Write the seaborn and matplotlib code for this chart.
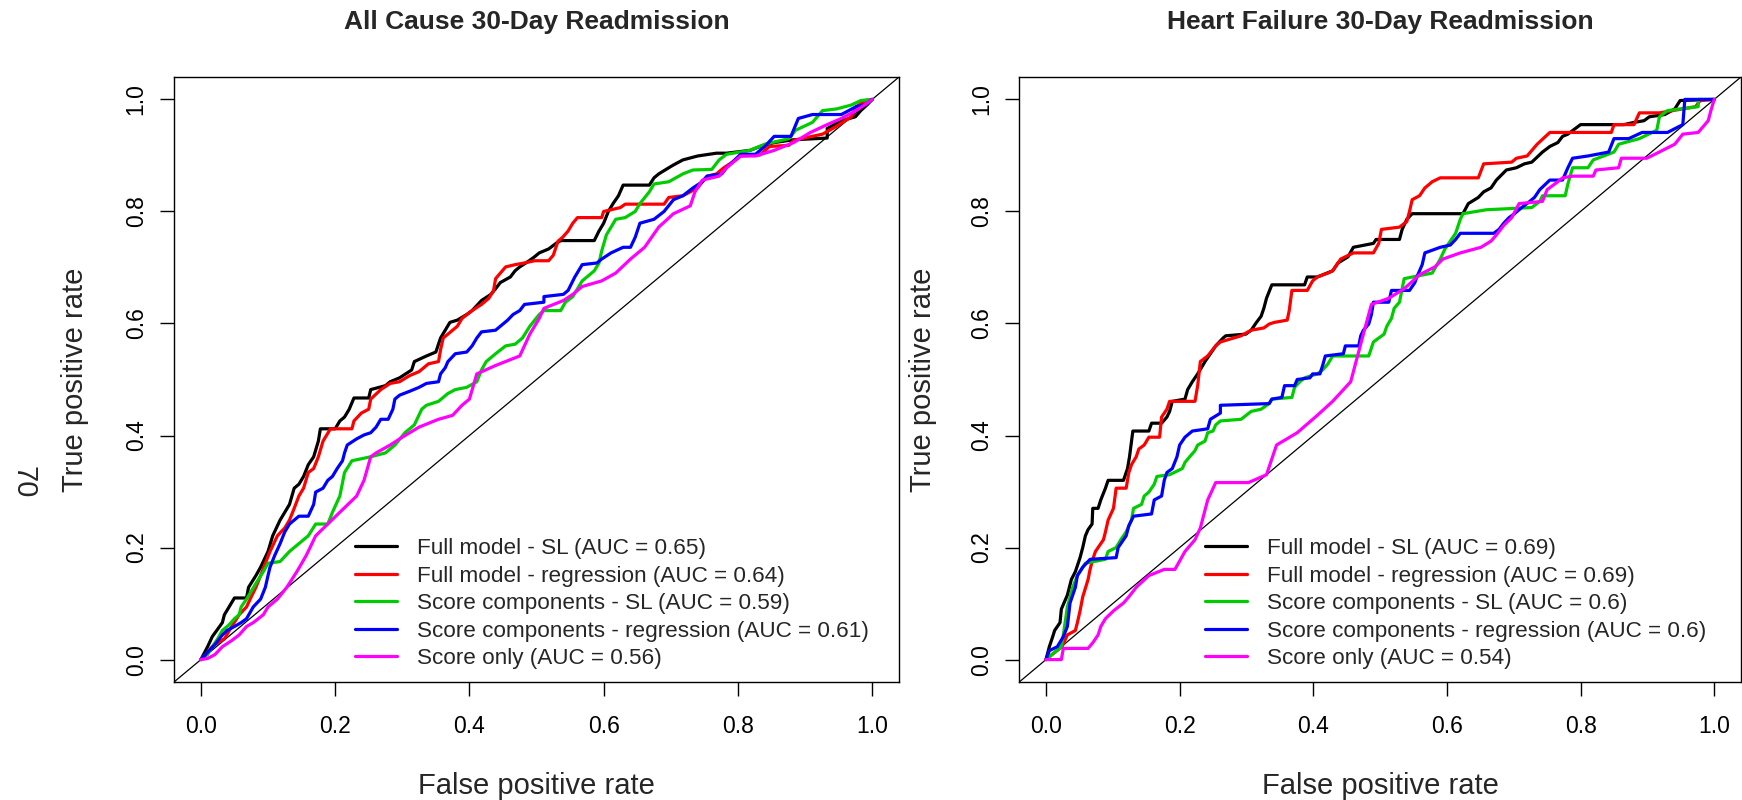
import numpy as np
import pandas as pd
import matplotlib
matplotlib.use("Agg")
import matplotlib.pyplot as plt
import seaborn as sns

# ---------------- data ----------------
titles = ["All Cause 30-Day Readmission", "Heart Failure 30-Day Readmission"]
model_names = ["Full model - SL", "Full model - regression", "Score components - SL",
               "Score components - regression", "Score only"]
auc_all_cause = ["0.65", "0.64", "0.59", "0.61", "0.56"]
auc_heart_failure = ["0.69", "0.69", "0.6", "0.6", "0.54"]
line_colors = ["#000000", "#FF0000", "#00CD00", "#0000FF", "#FF00FF"]
tick_values = [0.0, 0.2, 0.4, 0.6, 0.8, 1.0]
tick_labels = ["0.0", "0.2", "0.4", "0.6", "0.8", "1.0"]

# All cause: Full model - SL
ac_full_sl_fpr = [0, 0.010, 0.017, 0.032, 0.035, 0.050, 0.068, 0.071, 0.082, 0.089, 0.100, 0.107, 0.118, 0.125, 0.132, 0.139, 0.146, 0.153, 0.160, 0.168, 0.175, 0.178, 0.200, 0.207, 0.214, 0.221, 0.228, 0.250, 0.253, 0.275, 0.282, 0.296, 0.314, 0.318, 0.336, 0.350, 0.357, 0.364, 0.371, 0.382, 0.396, 0.404, 0.418, 0.432, 0.439, 0.446, 0.461, 0.468, 0.475, 0.489, 0.497, 0.504, 0.518, 0.529, 0.536, 0.586, 0.593, 0.600, 0.607, 0.614, 0.622, 0.629, 0.668, 0.675, 0.682, 0.697, 0.704, 0.718, 0.740, 0.768, 0.783, 0.818, 0.833, 0.854, 0.883, 0.933, 0.933, 0.954, 0.975, 0.983, 0.993, 1.0]
ac_full_sl_tpr = [0, 0.023, 0.041, 0.066, 0.080, 0.110, 0.110, 0.129, 0.150, 0.165, 0.193, 0.221, 0.249, 0.263, 0.277, 0.306, 0.313, 0.327, 0.348, 0.362, 0.390, 0.412, 0.412, 0.426, 0.433, 0.447, 0.467, 0.467, 0.482, 0.489, 0.496, 0.503, 0.517, 0.532, 0.542, 0.549, 0.574, 0.588, 0.602, 0.606, 0.616, 0.623, 0.641, 0.652, 0.662, 0.673, 0.683, 0.694, 0.701, 0.712, 0.719, 0.726, 0.733, 0.743, 0.748, 0.748, 0.765, 0.779, 0.800, 0.814, 0.828, 0.847, 0.847, 0.860, 0.867, 0.878, 0.883, 0.892, 0.899, 0.904, 0.904, 0.909, 0.916, 0.923, 0.928, 0.931, 0.948, 0.962, 0.969, 0.980, 0.991, 1.0]

# All cause: Full model - regression
ac_full_reg_fpr = [0, 0.007, 0.017, 0.025, 0.035, 0.046, 0.057, 0.068, 0.075, 0.082, 0.089, 0.096, 0.103, 0.114, 0.125, 0.132, 0.139, 0.146, 0.153, 0.160, 0.168, 0.175, 0.182, 0.193, 0.225, 0.228, 0.239, 0.250, 0.253, 0.268, 0.282, 0.296, 0.311, 0.325, 0.339, 0.354, 0.357, 0.361, 0.368, 0.382, 0.389, 0.404, 0.418, 0.429, 0.436, 0.439, 0.454, 0.468, 0.482, 0.497, 0.518, 0.525, 0.532, 0.539, 0.547, 0.554, 0.561, 0.597, 0.600, 0.611, 0.625, 0.632, 0.690, 0.697, 0.718, 0.740, 0.747, 0.754, 0.768, 0.779, 0.797, 0.804, 0.833, 0.847, 0.876, 0.883, 0.926, 0.947, 0.969, 0.976, 0.990, 1.0]
ac_full_reg_tpr = [0, 0.009, 0.023, 0.030, 0.037, 0.059, 0.080, 0.094, 0.112, 0.129, 0.150, 0.172, 0.193, 0.221, 0.235, 0.249, 0.270, 0.292, 0.306, 0.334, 0.341, 0.362, 0.390, 0.412, 0.412, 0.426, 0.440, 0.447, 0.465, 0.482, 0.493, 0.496, 0.507, 0.514, 0.528, 0.532, 0.553, 0.574, 0.581, 0.595, 0.609, 0.623, 0.634, 0.645, 0.659, 0.680, 0.701, 0.705, 0.708, 0.712, 0.712, 0.722, 0.747, 0.754, 0.765, 0.779, 0.789, 0.789, 0.800, 0.803, 0.807, 0.813, 0.813, 0.825, 0.828, 0.842, 0.853, 0.863, 0.867, 0.878, 0.892, 0.899, 0.901, 0.916, 0.918, 0.927, 0.938, 0.952, 0.969, 0.987, 0.998, 1.0]

# All cause: Score components - SL
ac_comp_sl_fpr = [0, 0.010, 0.017, 0.025, 0.032, 0.042, 0.050, 0.057, 0.060, 0.068, 0.075, 0.082, 0.093, 0.100, 0.118, 0.132, 0.146, 0.160, 0.171, 0.189, 0.196, 0.207, 0.214, 0.225, 0.253, 0.275, 0.289, 0.304, 0.318, 0.329, 0.336, 0.354, 0.368, 0.379, 0.396, 0.411, 0.418, 0.425, 0.439, 0.454, 0.468, 0.479, 0.490, 0.504, 0.511, 0.536, 0.543, 0.554, 0.561, 0.568, 0.586, 0.593, 0.597, 0.604, 0.611, 0.618, 0.632, 0.647, 0.654, 0.668, 0.675, 0.697, 0.718, 0.733, 0.761, 0.772, 0.783, 0.818, 0.840, 0.876, 0.886, 0.911, 0.926, 0.947, 0.969, 0.983, 1.0]
ac_comp_sl_tpr = [0, 0.009, 0.023, 0.037, 0.052, 0.062, 0.073, 0.080, 0.094, 0.108, 0.122, 0.136, 0.157, 0.172, 0.175, 0.193, 0.207, 0.221, 0.242, 0.242, 0.263, 0.292, 0.334, 0.355, 0.362, 0.369, 0.383, 0.405, 0.419, 0.447, 0.454, 0.461, 0.475, 0.482, 0.486, 0.496, 0.517, 0.532, 0.546, 0.560, 0.563, 0.574, 0.595, 0.616, 0.623, 0.623, 0.638, 0.648, 0.662, 0.676, 0.694, 0.708, 0.729, 0.758, 0.772, 0.786, 0.789, 0.800, 0.814, 0.835, 0.849, 0.853, 0.867, 0.874, 0.875, 0.892, 0.902, 0.909, 0.920, 0.930, 0.945, 0.959, 0.980, 0.983, 0.990, 0.998, 1.0]

# All cause: Score components - regression
ac_comp_reg_fpr = [0, 0.010, 0.021, 0.032, 0.039, 0.050, 0.060, 0.068, 0.078, 0.089, 0.096, 0.100, 0.103, 0.110, 0.118, 0.125, 0.132, 0.139, 0.146, 0.160, 0.168, 0.171, 0.182, 0.189, 0.196, 0.203, 0.211, 0.214, 0.218, 0.232, 0.243, 0.253, 0.261, 0.268, 0.279, 0.286, 0.289, 0.296, 0.311, 0.325, 0.336, 0.354, 0.357, 0.364, 0.368, 0.379, 0.396, 0.404, 0.411, 0.418, 0.439, 0.446, 0.457, 0.465, 0.475, 0.482, 0.511, 0.511, 0.540, 0.547, 0.557, 0.568, 0.590, 0.597, 0.611, 0.629, 0.640, 0.647, 0.654, 0.675, 0.690, 0.704, 0.718, 0.733, 0.747, 0.754, 0.776, 0.783, 0.804, 0.826, 0.840, 0.854, 0.879, 0.890, 0.911, 0.954, 0.976, 0.990, 1.0]
ac_comp_reg_tpr = [0, 0.013, 0.027, 0.044, 0.052, 0.059, 0.066, 0.073, 0.094, 0.108, 0.129, 0.150, 0.165, 0.186, 0.207, 0.228, 0.242, 0.249, 0.256, 0.256, 0.277, 0.299, 0.306, 0.320, 0.327, 0.341, 0.355, 0.369, 0.383, 0.394, 0.401, 0.405, 0.415, 0.429, 0.429, 0.447, 0.465, 0.472, 0.479, 0.486, 0.493, 0.496, 0.510, 0.521, 0.532, 0.546, 0.549, 0.560, 0.574, 0.585, 0.588, 0.595, 0.606, 0.616, 0.623, 0.634, 0.638, 0.648, 0.652, 0.659, 0.683, 0.705, 0.708, 0.715, 0.726, 0.736, 0.736, 0.754, 0.779, 0.786, 0.800, 0.821, 0.828, 0.842, 0.853, 0.863, 0.867, 0.878, 0.902, 0.902, 0.916, 0.934, 0.934, 0.966, 0.973, 0.973, 0.987, 0.991, 1.0]

# All cause: Score only
ac_score_fpr = [0, 0.010, 0.021, 0.032, 0.046, 0.057, 0.068, 0.078, 0.093, 0.100, 0.114, 0.128, 0.143, 0.157, 0.171, 0.189, 0.207, 0.232, 0.243, 0.253, 0.261, 0.282, 0.300, 0.325, 0.354, 0.375, 0.389, 0.400, 0.411, 0.439, 0.475, 0.490, 0.504, 0.511, 0.540, 0.554, 0.568, 0.597, 0.618, 0.640, 0.661, 0.682, 0.704, 0.729, 0.736, 0.747, 0.772, 0.783, 0.804, 0.826, 0.854, 0.883, 0.908, 0.933, 0.954, 0.976, 0.990, 1.0]
ac_score_tpr = [0, 0.002, 0.009, 0.023, 0.034, 0.044, 0.059, 0.066, 0.080, 0.094, 0.108, 0.129, 0.157, 0.186, 0.221, 0.242, 0.263, 0.292, 0.320, 0.362, 0.369, 0.383, 0.397, 0.415, 0.429, 0.436, 0.454, 0.465, 0.510, 0.525, 0.542, 0.581, 0.609, 0.627, 0.641, 0.652, 0.666, 0.676, 0.690, 0.715, 0.736, 0.772, 0.796, 0.810, 0.835, 0.856, 0.863, 0.878, 0.899, 0.899, 0.909, 0.923, 0.941, 0.955, 0.966, 0.980, 0.991, 1.0]

# Heart failure: Full model - SL
hf_full_sl_fpr = [0, 0.005, 0.009, 0.013, 0.021, 0.023, 0.028, 0.032, 0.038, 0.044, 0.051, 0.055, 0.059, 0.063, 0.069, 0.070, 0.078, 0.082, 0.089, 0.093, 0.116, 0.122, 0.125, 0.130, 0.154, 0.158, 0.173, 0.181, 0.185, 0.189, 0.208, 0.212, 0.219, 0.227, 0.238, 0.246, 0.254, 0.265, 0.269, 0.299, 0.307, 0.315, 0.322, 0.326, 0.330, 0.338, 0.387, 0.391, 0.406, 0.429, 0.437, 0.452, 0.460, 0.490, 0.494, 0.529, 0.533, 0.540, 0.548, 0.624, 0.632, 0.647, 0.655, 0.666, 0.674, 0.689, 0.704, 0.716, 0.727, 0.743, 0.754, 0.766, 0.773, 0.781, 0.800, 0.865, 0.880, 0.895, 0.903, 0.926, 0.941, 0.949, 1.0]
hf_full_sl_tpr = [0, 0.023, 0.037, 0.052, 0.066, 0.090, 0.104, 0.115, 0.143, 0.157, 0.182, 0.200, 0.221, 0.232, 0.242, 0.270, 0.270, 0.285, 0.306, 0.320, 0.320, 0.341, 0.362, 0.408, 0.408, 0.422, 0.422, 0.433, 0.443, 0.461, 0.465, 0.482, 0.496, 0.510, 0.532, 0.546, 0.560, 0.574, 0.578, 0.581, 0.588, 0.602, 0.613, 0.627, 0.645, 0.669, 0.669, 0.683, 0.683, 0.694, 0.708, 0.719, 0.736, 0.743, 0.750, 0.750, 0.768, 0.786, 0.796, 0.796, 0.814, 0.825, 0.835, 0.842, 0.856, 0.874, 0.878, 0.885, 0.888, 0.906, 0.916, 0.923, 0.934, 0.938, 0.955, 0.955, 0.959, 0.962, 0.969, 0.973, 0.983, 0.998, 1.0]

# Heart failure: Full model - regression
hf_full_reg_fpr = [0, 0.009, 0.024, 0.032, 0.044, 0.047, 0.051, 0.055, 0.063, 0.066, 0.070, 0.074, 0.086, 0.089, 0.093, 0.101, 0.105, 0.120, 0.124, 0.128, 0.135, 0.139, 0.147, 0.154, 0.170, 0.173, 0.181, 0.185, 0.223, 0.227, 0.231, 0.242, 0.254, 0.261, 0.292, 0.307, 0.326, 0.334, 0.342, 0.361, 0.364, 0.368, 0.391, 0.399, 0.406, 0.422, 0.429, 0.441, 0.460, 0.490, 0.498, 0.502, 0.529, 0.540, 0.544, 0.548, 0.559, 0.567, 0.578, 0.590, 0.647, 0.655, 0.697, 0.704, 0.720, 0.735, 0.754, 0.846, 0.850, 0.880, 0.888, 0.918, 0.972, 0.979, 1.0]
hf_full_reg_tpr = [0, 0.009, 0.023, 0.044, 0.052, 0.066, 0.087, 0.112, 0.143, 0.161, 0.179, 0.193, 0.214, 0.228, 0.249, 0.270, 0.306, 0.306, 0.334, 0.348, 0.362, 0.376, 0.383, 0.397, 0.397, 0.433, 0.447, 0.461, 0.461, 0.489, 0.532, 0.542, 0.560, 0.567, 0.578, 0.588, 0.592, 0.599, 0.602, 0.606, 0.623, 0.659, 0.659, 0.676, 0.683, 0.690, 0.694, 0.715, 0.726, 0.726, 0.743, 0.768, 0.772, 0.782, 0.800, 0.821, 0.828, 0.842, 0.853, 0.860, 0.860, 0.885, 0.888, 0.895, 0.899, 0.920, 0.941, 0.941, 0.955, 0.955, 0.976, 0.976, 0.987, 0.998, 1.0]

# Heart failure: Score components - SL
hf_comp_sl_fpr = [0, 0.009, 0.023, 0.026, 0.032, 0.040, 0.047, 0.051, 0.059, 0.089, 0.093, 0.105, 0.112, 0.120, 0.128, 0.131, 0.143, 0.147, 0.154, 0.162, 0.166, 0.185, 0.204, 0.208, 0.215, 0.223, 0.227, 0.238, 0.242, 0.250, 0.254, 0.261, 0.292, 0.307, 0.322, 0.334, 0.338, 0.368, 0.372, 0.380, 0.387, 0.406, 0.414, 0.422, 0.429, 0.483, 0.490, 0.498, 0.506, 0.510, 0.517, 0.521, 0.529, 0.536, 0.578, 0.590, 0.597, 0.605, 0.613, 0.620, 0.624, 0.659, 0.727, 0.739, 0.743, 0.777, 0.781, 0.788, 0.811, 0.819, 0.850, 0.857, 0.888, 0.914, 0.918, 0.930, 0.976, 0.976, 1.0]
hf_comp_sl_tpr = [0, 0.009, 0.023, 0.044, 0.094, 0.129, 0.150, 0.157, 0.172, 0.179, 0.193, 0.200, 0.214, 0.228, 0.249, 0.270, 0.277, 0.292, 0.299, 0.313, 0.327, 0.330, 0.341, 0.352, 0.362, 0.373, 0.383, 0.390, 0.405, 0.408, 0.419, 0.426, 0.429, 0.443, 0.447, 0.457, 0.465, 0.468, 0.486, 0.496, 0.503, 0.510, 0.517, 0.528, 0.542, 0.542, 0.567, 0.574, 0.581, 0.595, 0.609, 0.627, 0.638, 0.680, 0.690, 0.715, 0.733, 0.747, 0.761, 0.786, 0.796, 0.803, 0.807, 0.818, 0.828, 0.828, 0.849, 0.878, 0.878, 0.892, 0.906, 0.920, 0.930, 0.945, 0.969, 0.980, 0.987, 1.0, 1.0]

# Heart failure: Score components - regression
hf_comp_reg_fpr = [0, 0.005, 0.017, 0.026, 0.032, 0.036, 0.044, 0.047, 0.055, 0.066, 0.105, 0.108, 0.120, 0.124, 0.131, 0.158, 0.162, 0.173, 0.177, 0.181, 0.189, 0.196, 0.200, 0.208, 0.219, 0.242, 0.246, 0.261, 0.261, 0.334, 0.338, 0.353, 0.357, 0.372, 0.376, 0.395, 0.399, 0.410, 0.414, 0.418, 0.445, 0.448, 0.468, 0.471, 0.475, 0.483, 0.487, 0.490, 0.513, 0.517, 0.544, 0.552, 0.555, 0.563, 0.567, 0.590, 0.605, 0.613, 0.620, 0.670, 0.678, 0.685, 0.693, 0.701, 0.712, 0.724, 0.731, 0.739, 0.754, 0.773, 0.781, 0.788, 0.811, 0.842, 0.850, 0.872, 0.892, 0.930, 0.953, 0.956, 1.0]
hf_comp_reg_tpr = [0, 0.016, 0.023, 0.041, 0.059, 0.101, 0.129, 0.150, 0.165, 0.179, 0.182, 0.200, 0.221, 0.239, 0.256, 0.260, 0.285, 0.292, 0.320, 0.334, 0.341, 0.362, 0.383, 0.397, 0.408, 0.412, 0.429, 0.440, 0.454, 0.457, 0.465, 0.468, 0.489, 0.489, 0.500, 0.503, 0.510, 0.510, 0.525, 0.542, 0.546, 0.560, 0.560, 0.578, 0.588, 0.599, 0.616, 0.638, 0.638, 0.659, 0.659, 0.673, 0.683, 0.705, 0.726, 0.736, 0.740, 0.750, 0.761, 0.761, 0.768, 0.779, 0.789, 0.796, 0.807, 0.818, 0.825, 0.839, 0.856, 0.856, 0.878, 0.895, 0.899, 0.906, 0.930, 0.930, 0.941, 0.941, 0.955, 1.0, 1.0]

# Heart failure: Score only
hf_score_fpr = [0, 0.023, 0.026, 0.063, 0.070, 0.078, 0.082, 0.089, 0.101, 0.116, 0.124, 0.135, 0.154, 0.177, 0.193, 0.208, 0.223, 0.231, 0.242, 0.254, 0.303, 0.330, 0.345, 0.376, 0.406, 0.429, 0.456, 0.464, 0.475, 0.487, 0.513, 0.536, 0.559, 0.582, 0.594, 0.620, 0.651, 0.666, 0.674, 0.685, 0.697, 0.708, 0.743, 0.750, 0.766, 0.773, 0.788, 0.819, 0.823, 0.857, 0.861, 0.899, 0.911, 0.941, 0.953, 0.976, 0.991, 0.995, 1.0]
hf_score_tpr = [0, 0, 0.020, 0.020, 0.030, 0.044, 0.059, 0.073, 0.087, 0.101, 0.112, 0.129, 0.150, 0.161, 0.161, 0.193, 0.214, 0.235, 0.285, 0.316, 0.316, 0.330, 0.383, 0.405, 0.436, 0.461, 0.496, 0.532, 0.581, 0.634, 0.645, 0.662, 0.687, 0.701, 0.715, 0.726, 0.736, 0.747, 0.758, 0.775, 0.789, 0.814, 0.818, 0.839, 0.853, 0.860, 0.863, 0.863, 0.874, 0.878, 0.895, 0.895, 0.902, 0.920, 0.938, 0.941, 0.962, 0.980, 1.0]

panels = [
    dict(title=titles[0], auc=auc_all_cause,
         curves=[(ac_full_sl_fpr, ac_full_sl_tpr), (ac_full_reg_fpr, ac_full_reg_tpr),
                 (ac_comp_sl_fpr, ac_comp_sl_tpr), (ac_comp_reg_fpr, ac_comp_reg_tpr),
                 (ac_score_fpr, ac_score_tpr)]),
    dict(title=titles[1], auc=auc_heart_failure,
         curves=[(hf_full_sl_fpr, hf_full_sl_tpr), (hf_full_reg_fpr, hf_full_reg_tpr),
                 (hf_comp_sl_fpr, hf_comp_sl_tpr), (hf_comp_reg_fpr, hf_comp_reg_tpr),
                 (hf_score_fpr, hf_score_tpr)]),
]

# ---------------- style ----------------
sns.set_theme(style="ticks")
plt.rcParams["font.family"] = ["Liberation Sans", "DejaVu Sans"]
plt.rcParams["axes.linewidth"] = 1.0
plt.rcParams["xtick.major.width"] = 1.0
plt.rcParams["ytick.major.width"] = 1.0
plt.rcParams["xtick.color"] = "black"
plt.rcParams["ytick.color"] = "black"
plt.rcParams["axes.edgecolor"] = "black"

fig = plt.figure(figsize=(17.42, 8.0), dpi=100)
axes_rects = [[0.0999, 0.1475, 0.4162, 0.75625], [0.5851, 0.1475, 0.4143, 0.75625]]
legend_x = [0.2497, 0.257]
ylabel_x = [-0.117, -0.114]

for i, p in enumerate(panels):
    ax = fig.add_axes(axes_rects[i])
    rows = []
    for name, auc, (fx, ty) in zip(model_names, p["auc"], p["curves"]):
        lab = f"{name} (AUC = {auc})"
        for k, (a, b) in enumerate(zip(fx, ty)):
            rows.append({"fpr": a, "tpr": b, "model": lab, "order": k})
    df = pd.DataFrame(rows)
    labels = list(dict.fromkeys(df["model"]))
    sns.lineplot(data=df, x="fpr", y="tpr", hue="model", hue_order=labels,
                 palette=dict(zip(labels, line_colors)), sort=False, estimator=None,
                 linewidth=2.3, ax=ax, legend=False, zorder=3)
    handles = ax.get_lines()[:5]
    ax.axline((0, 0), (1, 1), color="black", linewidth=0.9, zorder=2)
    ax.set_xlim(-0.04, 1.04)
    ax.set_ylim(-0.04, 1.04)
    ax.set_xticks(tick_values)
    ax.set_xticklabels(tick_labels)
    ax.set_yticks(tick_values)
    ax.set_yticklabels(tick_labels, rotation=90, va="center")
    ax.tick_params(axis="x", length=10, pad=14, labelsize=16.5)
    ax.tick_params(axis="y", length=10, pad=9, labelsize=16.5)
    for s in ax.spines.values():
        s.set_visible(True)
        s.set_linewidth(1.0)
    ax.set_xlabel("False positive rate", fontsize=21)
    ax.set_ylabel("True positive rate", fontsize=21)
    ax.xaxis.set_label_coords(0.5, -0.149)
    ax.yaxis.set_label_coords(ylabel_x[i], 0.5)
    ax.set_title(p["title"], fontsize=19, fontweight="bold", y=1.08, pad=0, va="baseline")
    leg = ax.legend(handles, labels, loc="lower left", bbox_to_anchor=(legend_x[i], 0.021),
                    frameon=False, fontsize=16.2, handlelength=1.87, handletextpad=0.89,
                    labelspacing=0.29, borderpad=0, borderaxespad=0)
    for h in leg.legend_handles:
        h.set_linewidth(2.3)

fig.text(23 / 1742, 1 - 482 / 800, "70", rotation=270, fontsize=21,
         ha="center", va="center")

fig.savefig("out.png", dpi=100, facecolor="white")
